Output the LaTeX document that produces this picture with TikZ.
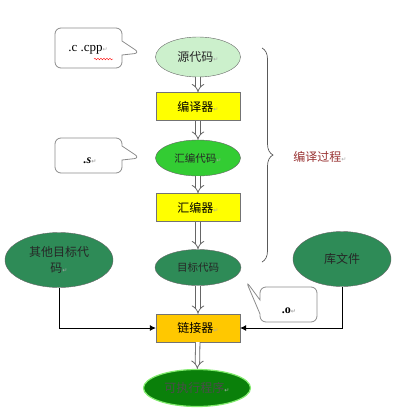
\documentclass[tikz,border=0pt]{standalone}
\usepackage{fontspec}
\setmainfont{Liberation Serif}
\newfontfamily\cjk{Noto Sans CJK SC}
\newfontfamily\retfont{DejaVu Sans}
\usetikzlibrary{positioning,calc}
\usetikzlibrary{arrows.meta,shapes.geometric,shapes.callouts,decorations.pathreplacing,decorations.pathmorphing}
\definecolor{PaleGreen}{RGB}{204,240,204}
\definecolor{BrightGreen}{RGB}{51,204,51}
\definecolor{SeaGreen}{RGB}{46,139,87}
\definecolor{DeepGreen}{RGB}{10,128,10}
\definecolor{RimGreen}{RGB}{130,235,110}
\definecolor{BoxYellow}{RGB}{255,255,0}
\definecolor{LinkOrange}{RGB}{255,200,0}
\definecolor{BraceRed}{RGB}{153,51,51}
\newcommand{\ret}{{\retfont\fontsize{6}{6}\selectfont\color{black!35}↵}}
\tikzset{
  blob/.style={ellipse,draw=black!60,inner sep=0pt,text=black!85,font=\cjk\fontsize{12}{16}\selectfont},
  stage/.style={rectangle,draw=black!55,inner sep=0pt,minimum width=84pt,minimum height=28pt,font=\cjk\fontsize{12}{14}\selectfont},
  note/.style={rectangle callout,rounded corners=6pt,draw=black!45,fill=white,line width=0.8pt,callout pointer width=14pt},
  flow/.style={draw=black!60,double=white,double distance=3.6pt,line width=0.8pt,-{Implies}},
  feed/.style={draw=black,line width=0.7pt,-{Latex[length=6pt,width=6pt]}},
}

\begin{document}
\begin{tikzpicture}[x=1pt,y=-1pt]
\useasboundingbox (0,0) rectangle (415,418);
% main column
\node[blob,fill=PaleGreen,minimum width=85pt,minimum height=40pt] (src) at (198,57) {源代码\ret};
\node[stage,fill=BoxYellow] (cc) at (198,106.5) {编译器\ret};
\node[blob,fill=BrightGreen,minimum width=85pt,minimum height=36pt,font=\cjk\fontsize{10.5}{12}\selectfont] (asm) at (198,158) {汇编代码\ret};
\node[stage,fill=BoxYellow] (as) at (198,207.5) {汇编器\ret};
\node[blob,fill=SeaGreen,minimum width=86pt,minimum height=36pt,font=\cjk\fontsize{10.5}{12}\selectfont] (obj) at (198,267.5) {目标代码};
\node[stage,fill=LinkOrange] (ld) at (198,328) {链接器\ret};
\node[blob,fill=DeepGreen,draw=RimGreen,line width=1.2pt,minimum width=107pt,minimum height=37pt,text=black!70] (exe) at (197,388) {可执行程序\ret};
% side inputs
\node[blob,fill=SeaGreen,minimum width=108pt,minimum height=55pt,align=center] (other) at (59,260) {其他目标代\\码\ret};
\node[blob,fill=SeaGreen,minimum width=98pt,minimum height=55pt] (lib) at (342,259) {库文件};
\draw[flow] (src) -- (cc);
\draw[flow] (cc) -- (asm);
\draw[flow] (asm) -- (as);
\draw[flow] (as) -- (obj);
\draw[flow] (obj) -- (ld);
\draw[flow] (ld) -- (exe);
\draw[feed] (other.south) |- (ld.west);
\draw[feed] (lib.south) |- (ld.east);
% callouts
\coordinate (tipC) at (140,53);
\coordinate (tipS) at (140,158);
\coordinate (tipO) at (246,281);
\node[note,minimum width=67pt,minimum height=40pt,callout absolute pointer={(tipC)}] (cnote) at (88.5,48) {};
\node[note,minimum width=67pt,minimum height=35pt,callout absolute pointer={(tipS)}] (snote) at (88.5,155.5) {};
\node[note,minimum width=57pt,minimum height=35pt,callout absolute pointer={(tipO)}] (onote) at (288.5,304.5) {};
\node[font=\fontsize{13}{14}\selectfont] (ctext) at (88,50) {.c\ .cpp\ret};
\draw[red,line width=0.4pt,decorate,decoration={snake,amplitude=0.8pt,segment length=3pt}] (94,59) -- (113,59);
\node[font=\bfseries\itshape\fontsize{12}{14}\selectfont] (stext) at (90,161) {.s\ret};
\node[font=\bfseries\fontsize{12}{14}\selectfont] (otext) at (289,311) {.o\ret};
% compile stage brace
\draw[draw=black!65,line width=0.7pt,decorate,decoration={brace,amplitude=11pt}] (262,48) -- (262,262);
\node[text=BraceRed,font=\cjk\fontsize{12}{14}\selectfont] (stagelab) at (320,157) {编译过程\ret};
\end{tikzpicture}
\end{document}
